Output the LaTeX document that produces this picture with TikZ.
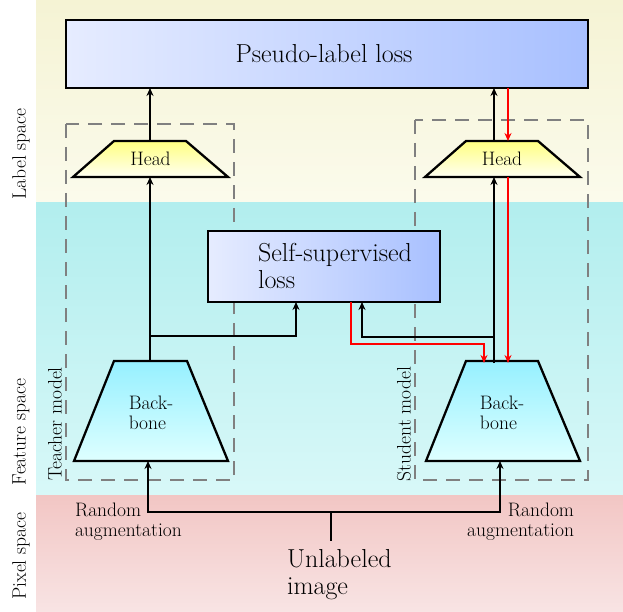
\documentclass[tikz,border=0pt]{standalone}
\usetikzlibrary{arrows.meta,calc}
\definecolor{lblTop}{RGB}{245,243,212}
\definecolor{lblBot}{RGB}{251,251,236}
\definecolor{feaTop}{RGB}{178,238,238}
\definecolor{feaBot}{RGB}{216,248,248}
\definecolor{pixTop}{RGB}{242,198,196}
\definecolor{pixBot}{RGB}{248,228,228}
\definecolor{lossL}{RGB}{230,236,255}
\definecolor{lossR}{RGB}{168,192,255}
\definecolor{headTop}{RGB}{255,255,128}
\definecolor{headBot}{RGB}{255,255,242}
\definecolor{bbTop}{RGB}{150,240,255}
\definecolor{bbBot}{RGB}{222,255,255}
\definecolor{redline}{RGB}{255,0,0}
\newcommand{\bigtxt}{\fontsize{26}{27}\selectfont}
\newcommand{\smtxt}{\fontsize{19.5}{20}\selectfont}
\begin{document}
\begin{tikzpicture}[x=1pt,y=-1pt,
  arr/.style={line width=1.4pt,-{Stealth[length=8pt,width=7pt]}},
  redarr/.style={line width=1.4pt,draw=redline,-{Stealth[length=8pt,width=7pt]}},
  plain/.style={line width=1.4pt},
  lossbox/.style={line width=2.3pt,draw=black,left color=lossL,right color=lossR},
  headshape/.style={line width=2.3pt,draw=black,top color=headTop,bottom color=headBot},
  bbshape/.style={line width=2.3pt,draw=black,top color=bbTop,bottom color=bbBot},
  modelbox/.style={line width=2.3pt,draw=gray,dash pattern=on 14pt off 9pt},
  hit/.style={inner sep=0pt,outer sep=0pt},
  sidelbl/.style={rotate=90,font=\smtxt,inner sep=0pt}
]
\useasboundingbox (0,0) rectangle (623,612);
\fill[white] (0,0) rectangle (623,612);
% bands
\shade[top color=lblTop,bottom color=lblBot] (36,0) rectangle (623,203);
\shade[top color=feaTop,bottom color=feaBot] (36,203) rectangle (623,495);
\shade[top color=pixTop,bottom color=pixBot] (36,495) rectangle (623,612);
\node[sidelbl] (ls) at (21,154) {Label space};
\node[sidelbl] (fs) at (21,432) {Feature space};
\node[sidelbl] (ps) at (21,556) {Pixel space};

% model boxes
\draw[modelbox] (66,124) rectangle (234,480);
\draw[modelbox] (415,120) rectangle (588,480);
\node[sidelbl] (tm) at (55,424) {Teacher model};
\node[sidelbl] (sm) at (404,424) {Student model};

% pseudo-label loss
\shadedraw[lossbox] (66,20) rectangle (588,88);
\node[hit,minimum width=522pt,minimum height=68pt,font=\bigtxt] (pl) at (324,54) {Pseudo-label loss};

% self-supervised loss
\shadedraw[lossbox] (208,231) rectangle (440,302);
\node[hit,minimum width=232pt,minimum height=71pt] (ssl) at (324,266.5) {};
\node[hit,font=\bigtxt,align=left,anchor=west] (sslt) at (258,266) {Self-supervised\\loss};

% teacher head
\shadedraw[headshape] (114,141) -- (186,141) -- (228,177) -- (73,177) -- cycle;
\node[hit,minimum width=155pt,minimum height=36pt,font=\smtxt] (th) at (150.5,159) {Head};
% student head
\shadedraw[headshape] (466,141) -- (538,141) -- (580,177) -- (425,177) -- cycle;
\node[hit,minimum width=155pt,minimum height=36pt,font=\smtxt] (sh) at (502,159) {Head};

% teacher backbone
\shadedraw[bbshape] (114,361) -- (187,361) -- (228,461) -- (74,461) -- cycle;
\node[hit,minimum width=154pt,minimum height=100pt,font=\smtxt,align=left] (tb) at (151,413) {Back-\\bone};
% student backbone
\shadedraw[bbshape] (466,361) -- (538,361) -- (580,461) -- (426,461) -- cycle;
\node[hit,minimum width=154pt,minimum height=100pt,font=\smtxt,align=left] (sb) at (502,413) {Back-\\bone};

% bottom texts
\node[hit,font=\bigtxt,align=left,anchor=west,inner ysep=9pt] (ui) at (287,575) {Unlabeled\\image};
\node[hit,font=\smtxt,align=left,anchor=west] (ral) at (75,522) {Random\\augmentation};
\node[hit,font=\smtxt,align=right,anchor=east] (rar) at (574,522) {Random\\augmentation};

% teacher connectors
\coordinate (thN) at (150,141);
\coordinate (thS) at (150,177);
\coordinate (tbN) at (150,361);
\draw[arr] (thN) -- (thN |- pl.south);
\draw[arr] (tbN) -- (thS);
\coordinate (tj) at (150,336);
\coordinate (sslL) at ($(ssl.south)+(-28,0)$);
\draw[arr] (tj) -| (sslL);

% student connectors
\coordinate (shL) at ($(sh.north)+(-8,0)$);
\coordinate (shLb) at ($(sh.south)+(-8,0)$);
\coordinate (sbL) at ($(sb.north)+(-8,0)$);
\draw[arr] (shL) -- (shL |- pl.south);
\draw[arr] (sbL) -- (shLb);
\coordinate (sj) at ($(sbL)+(0,-26)$);
\coordinate (sslR) at ($(ssl.south)+(38,0)$);
\draw[arr] (sj) -| (sslR);

% red connectors
\coordinate (shR) at ($(sh.north)+(6,0)$);
\coordinate (shRb) at ($(sh.south)+(6,0)$);
\coordinate (sbR) at ($(sb.north)+(6,0)$);
\draw[redarr] (shR |- pl.south) -- (shR);
\draw[redarr] (shRb) -- (sbR);
\coordinate (sslM) at ($(ssl.south)+(27,0)$);
\coordinate (sbM) at ($(sb.north)+(-18,0)$);
\draw[redarr] (sslM) -- ++(0,42) -| (sbM);

% augmentation connectors
\coordinate (aug) at (331,512);
\coordinate (tbB) at (148,461);
\coordinate (sbB) at (500,461);
\draw[plain] (aug |- ui.north) -- (aug);
\draw[arr] (aug) -| (tbB);
\draw[arr] (aug) -| (sbB);
\end{tikzpicture}
\end{document}
